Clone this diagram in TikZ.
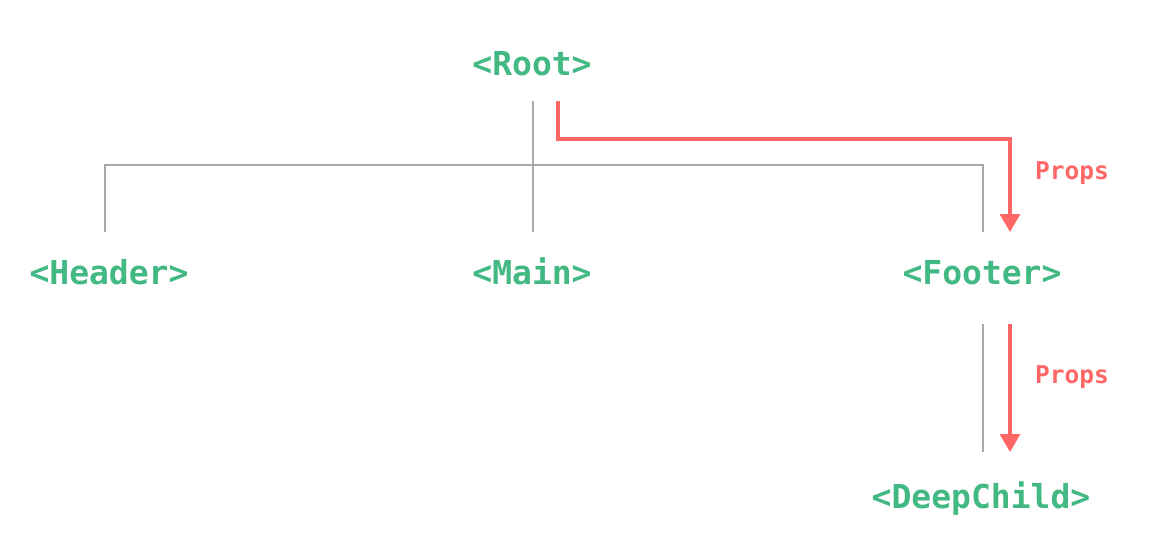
\documentclass[tikz,border=0pt]{standalone}
\usepackage{fontspec}
\setmonofont{DejaVu Sans Mono}
\usetikzlibrary{positioning,arrows.meta}
\definecolor{vuegreen}{HTML}{42B883}
\definecolor{propred}{HTML}{FF6666}
\definecolor{treegray}{HTML}{AAAAAA}

\tikzset{
  comp/.style={text=vuegreen, font=\ttfamily\bfseries\fontsize{33}{35}\selectfont, anchor=base, inner sep=0},
  proplabel/.style={text=propred, font=\ttfamily\bfseries\fontsize{24.5}{26}\selectfont, anchor=base west, inner sep=0},
  tree/.style={draw=treegray, line width=2},
  flow/.style={draw=propred, line width=3.4, -{Triangle[width=20,length=18]}},
}

\begin{document}
\begin{tikzpicture}[x=1pt,y=-1pt]

      \useasboundingbox (0,0) rectangle (1153,541);

      % components
      \node[comp] (root)   at (532,75)  {<Root>};
      \node[comp] (header) at (109,284) {<Header>};
      \node[comp] (main)   at (532,284) {<Main>};
      \node[comp] (footer) at (982,284) {<Footer>};
      \node[comp] (deep)   at (981,508) {<DeepChild>};

      % ends of the tree lines
      \coordinate (rootout)   at (533,101);
      \coordinate (mainin)    at (533,232);
      \coordinate (headerin)  at (105,232);
      \coordinate (busright)  at (983,165);
      \coordinate (footerin)  at (983,232);
      \coordinate (footerout) at (983,324);
      \coordinate (deepin)    at (983,452);

      \draw[tree] (rootout) -- (mainin);
      \draw[tree] (headerin) |- (busright) -- (footerin);
      \draw[tree] (footerout) -- (deepin);

      % props flow
      \coordinate (propsout)  at (558,101);
      \coordinate (propsturn) at (1010,139);
      \coordinate (propsin)   at (1010,232);
      \coordinate (deepout)   at (1010,324);
      \coordinate (deeptip)   at (1010,452);

      \draw[flow] (propsout) |- (propsturn) -- (propsin);
      \draw[flow] (deepout) -- (deeptip);

      \node[proplabel] (props1) at (1035,179) {Props};
      \node[proplabel] (props2) at (1035,383) {Props};

\end{tikzpicture}
\end{document}
